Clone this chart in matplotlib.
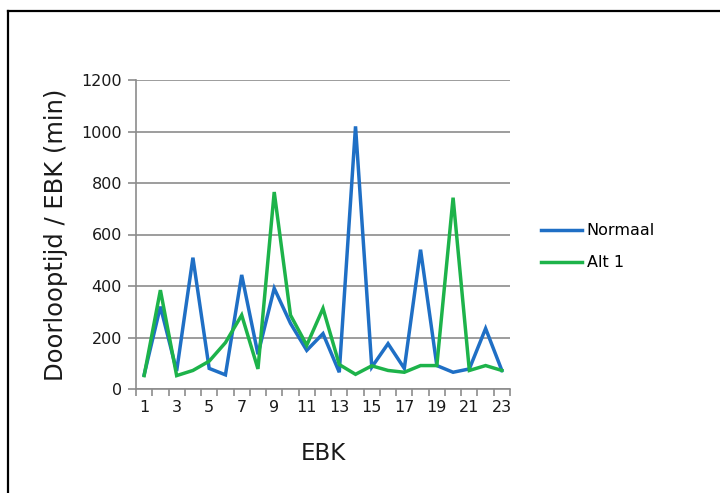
import numpy as np
import matplotlib
matplotlib.use("Agg")
import matplotlib.pyplot as plt
from matplotlib.lines import Line2D

# EBK index and lead time per EBK (minutes)
ebk = list(range(1, 24))
normaal = [55, 320, 70, 510, 80, 55, 443, 135, 391, 255, 150, 215, 65,
           1020, 85, 176, 80, 541, 91, 65, 78, 235, 72]
alt1 = [52, 384, 52, 72, 108, 180, 287, 78, 765, 287, 170, 313, 95,
        57, 90, 72, 65, 91, 91, 743, 72, 91, 72]
y_ticks = [0, 200, 400, 600, 800, 1000, 1200]
x_labels = [str(v) for v in ebk[::2]]

grid_col = "#8c8c8c"

fig = plt.figure(figsize=(7.2, 4.93), dpi=100)
ax = fig.add_axes([136 / 720, 1 - 389 / 493, 374 / 720, 309 / 493])

ax.plot(ebk, normaal, color="#1f6fc5", lw=2.5, label="Normaal", solid_joinstyle="miter")
ax.plot(ebk, alt1, color="#1db34a", lw=2.5, label="Alt 1", solid_joinstyle="miter")

ax.set_xlim(0.5, 23.5)
ax.set_ylim(0, 1200)

# horizontal gridlines
ax.set_yticks(y_ticks)
ax.yaxis.grid(True, color=grid_col, lw=1.2)
ax.set_axisbelow(True)
ax.tick_params(axis="y", direction="out", length=6, width=1.2, color=grid_col,
               labelsize=11.5, pad=4, labelcolor="#1a1a1a")

# category axis: ticks on the boundaries, labels on every other category
ax.set_xticks(np.arange(0.5, 24, 1.0))
ax.set_xticklabels([])
ax.set_xticks(ebk[::2], minor=True)
ax.set_xticklabels(x_labels, minor=True)
ax.tick_params(axis="x", which="major", direction="out", length=5, width=1.2, color=grid_col)
ax.tick_params(axis="x", which="minor", length=0, labelsize=11.5, pad=8, labelcolor="#1a1a1a")

for s in ("top", "right"):
    ax.spines[s].set_visible(False)
for s in ("left", "bottom"):
    ax.spines[s].set_color(grid_col)
    ax.spines[s].set_linewidth(1.2)

ax.set_ylabel("Doorlooptijd / EBK (min)", fontsize=17.5, labelpad=10, color="#1a1a1a")
ax.set_xlabel("EBK", fontsize=16.5, labelpad=19, color="#1a1a1a")

leg = ax.legend(loc="center left", bbox_to_anchor=(1.045, 0.46), frameon=False,
                fontsize=11.5, handlelength=2.55, handletextpad=0.3, labelspacing=1.06)

# outer frame of the chart area
fig.add_artist(Line2D([7.5 / 720, 7.5 / 720], [0, 1 - 10.5 / 493], color="black", lw=1.6,
                      transform=fig.transFigure))
fig.add_artist(Line2D([7.5 / 720, 1], [1 - 10.5 / 493, 1 - 10.5 / 493], color="black", lw=1.6,
                      transform=fig.transFigure))

fig.savefig("out.png", dpi=100)
